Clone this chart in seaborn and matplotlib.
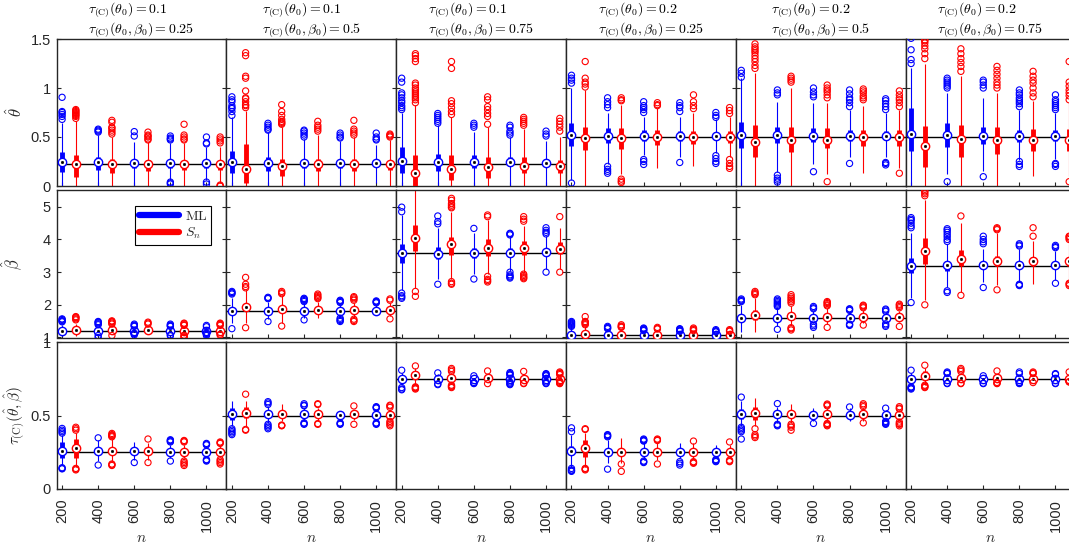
import numpy as np
import pandas as pd
import matplotlib
matplotlib.use("Agg")
import matplotlib.pyplot as plt
import seaborn as sns
from matplotlib.lines import Line2D

# ---------------- data ----------------
n_values = [200, 400, 600, 800, 1000]
n_labels = ["200", "400", "600", "800", "1000"]
tau_theta0 = ["0.1", "0.1", "0.1", "0.2", "0.2", "0.2"]
tau_total0 = ["0.25", "0.5", "0.75", "0.25", "0.5", "0.75"]

true_theta = [0.2222, 0.2222, 0.2222, 0.5, 0.5, 0.5]
true_beta = [1.2, 1.8, 3.6, 1.0667, 1.6, 3.2]
true_tau = [0.25, 0.5, 0.75, 0.25, 0.5, 0.75]

theta_ticks = [0, 0.5, 1, 1.5]
theta_ticklabels = ["0", "0.5", "1", "1.5"]
beta_ticks = [1, 2, 3, 4, 5]
beta_ticklabels = ["1", "2", "3", "4", "5"]
tau_ticks = [0, 0.5, 1]
tau_ticklabels = ["0", "0.5", "1"]

# ---- theta-hat, ML ----
theta_ml_med = [[0.242, 0.24, 0.235, 0.23, 0.23], [0.245, 0.235, 0.235, 0.23, 0.23],
                [0.255, 0.25, 0.25, 0.24, 0.235], [0.52, 0.51, 0.51, 0.51, 0.51],
                [0.52, 0.52, 0.51, 0.51, 0.51], [0.53, 0.52, 0.51, 0.51, 0.51]]
theta_ml_q1 = [[0.146, 0.163, 0.18, 0.18, 0.18], [0.13, 0.15, 0.18, 0.18, 0.19],
               [0.136, 0.15, 0.18, 0.2, 0.2], [0.41, 0.435, 0.46, 0.46, 0.47],
               [0.385, 0.44, 0.45, 0.46, 0.47], [0.36, 0.40, 0.43, 0.45, 0.46]]
theta_ml_q3 = [[0.35, 0.30, 0.27, 0.26, 0.25], [0.36, 0.30, 0.27, 0.26, 0.25],
               [0.40, 0.33, 0.32, 0.30, 0.28], [0.64, 0.59, 0.57, 0.56, 0.55],
               [0.656, 0.6, 0.59, 0.57, 0.56], [0.80, 0.64, 0.6, 0.57, 0.57]]
theta_ml_lo = [[0, 0, 0, 0.06, 0.06], [0, 0, 0, 0, 0.03], [0, 0, 0, 0, 0],
               [0.06, 0.22, 0.32, 0.3, 0.34], [0.0, 0.14, 0.22, 0.3, 0.3], [0, 0.12, 0.15, 0.27, 0.28]]
theta_ml_hi = [[0.64, 0.52, 0.45, 0.44, 0.40], [0.7, 0.55, 0.48, 0.46, 0.42],
               [0.75, 0.62, 0.55, 0.5, 0.46], [1.0, 0.75, 0.7, 0.7, 0.68],
               [1.1, 0.86, 0.85, 0.78, 0.75], [1.2, 0.95, 0.9, 0.78, 0.75]]
theta_ml_out = [
    [[0.68, 0.71, 0.73, 0.75, 0.76, 0.905], [0.55, 0.56, 0.57, 0.58], [0.51, 0.555],
     [0.47, 0.48, 0.49, 0.51, 0.02, 0.03, 0.04], [0.43, 0.44, 0.50, 0.02, 0.04]],
    [[0.72, 0.76, 0.79, 0.8, 0.82, 0.86, 0.88, 0.91], [0.57, 0.58, 0.6, 0.62, 0.64],
     [0.5, 0.52, 0.54, 0.56, 0.57], [0.49, 0.5, 0.52, 0.54], [0.47, 0.48, 0.5, 0.54]],
    [[0.78, 0.8, 0.82, 0.85, 0.87, 0.9, 0.93, 0.95, 1.06, 1.1], [0.64, 0.66, 0.68, 0.7, 0.72, 0.74],
     [0.6, 0.62, 0.64], [0.52, 0.54, 0.56, 0.6, 0.62], [0.51, 0.53, 0.56]],
    [[1.05, 1.08, 1.1, 1.13, 0.03], [0.8, 0.83, 0.86, 0.9, 0.13, 0.15, 0.17, 0.2],
     [0.75, 0.78, 0.8, 0.82, 0.86, 0.22, 0.25, 0.27], [0.76, 0.8, 0.82, 0.85, 0.24],
     [0.7, 0.72, 0.75, 0.23, 0.25, 0.28, 0.31]],
    [[1.11, 1.15, 1.18], [0.93, 0.95, 0.98, 0.04, 0.06, 0.08, 0.11], [0.91, 0.93, 0.96, 1.0, 0.146],
     [0.81, 0.85, 0.88, 0.9, 0.94, 0.98, 0.23], [0.78, 0.81, 0.84, 0.87, 0.89, 0.215, 0.23, 0.24]],
    [[1.25, 1.29, 1.39, 1.507], [1.0, 1.02, 1.04, 1.06, 1.08, 1.1, 0.044], [1.0, 1.03, 1.06, 1.08, 0.095],
     [0.81, 0.84, 0.86, 0.88, 0.9, 0.93, 0.95, 0.98, 0.2, 0.22, 0.25],
     [0.78, 0.8, 0.82, 0.84, 0.86, 0.88, 0.93, 0.2, 0.22, 0.23]],
]

# ---- theta-hat, Sn ----
theta_sn_med = [[0.221, 0.22, 0.22, 0.22, 0.22], [0.17, 0.20, 0.22, 0.22, 0.22],
                [0.13, 0.17, 0.19, 0.2, 0.2], [0.487, 0.487, 0.50, 0.50, 0.50],
                [0.446, 0.47, 0.47, 0.50, 0.50], [0.41, 0.476, 0.47, 0.47, 0.47]]
theta_sn_q1 = [[0.095, 0.136, 0.15, 0.16, 0.16], [0.03, 0.1, 0.15, 0.15, 0.16],
               [0.0, 0.06, 0.08, 0.13, 0.13], [0.37, 0.38, 0.42, 0.43, 0.44],
               [0.3, 0.35, 0.39, 0.41, 0.41], [0.197, 0.3, 0.33, 0.36, 0.36]]
theta_sn_q3 = [[0.316, 0.28, 0.27, 0.26, 0.26], [0.43, 0.28, 0.28, 0.28, 0.26],
               [0.32, 0.32, 0.30, 0.30, 0.27], [0.60, 0.59, 0.57, 0.56, 0.56],
               [0.62, 0.6, 0.59, 0.57, 0.57], [0.61, 0.62, 0.6, 0.58, 0.58]]
theta_sn_lo = [[0, 0, 0, 0, 0.03], [0, 0, 0, 0, 0], [0, 0, 0, 0, 0],
               [0, 0.12, 0.18, 0.2, 0.3], [0, 0, 0.12, 0.13, 0.18], [0, 0, 0, 0.1, 0.1]]
theta_sn_hi = [[0.66, 0.5, 0.45, 0.44, 0.4], [0.77, 0.6, 0.52, 0.5, 0.47],
               [0.83, 0.7, 0.6, 0.58, 0.5], [0.98, 0.83, 0.8, 0.75, 0.7],
               [1.15, 1.0, 0.85, 0.82, 0.78], [1.25, 1.12, 0.95, 0.87, 0.85]]
theta_sn_out = [
    [[0.69, 0.71, 0.72, 0.73, 0.74, 0.75, 0.76, 0.77, 0.78], [0.53, 0.55, 0.57, 0.59, 0.6, 0.65, 0.67],
     [0.47, 0.48, 0.5, 0.51, 0.52, 0.55], [0.47, 0.48, 0.5, 0.52, 0.63], [0.44, 0.46, 0.48, 0.5, 0.0, 0.0, 0.01]],
    [[0.8, 0.82, 0.83, 0.86, 0.89, 0.9, 0.97, 1.1, 1.12, 1.33, 1.36],
     [0.63, 0.64, 0.65, 0.66, 0.68, 0.72, 0.76, 0.83], [0.56, 0.58, 0.6, 0.62, 0.66],
     [0.52, 0.54, 0.56, 0.58, 0.67], [0.5, 0.51, 0.52, 0.53]],
    [[0.85, 0.88, 0.9, 0.92, 0.94, 0.96, 0.98, 1.0, 1.03, 1.05, 1.27, 1.3, 1.33, 1.35],
     [0.73, 0.76, 0.8, 0.84, 0.87, 1.2, 1.27], [0.63, 0.71, 0.74, 0.78, 0.81, 0.88, 0.91],
     [0.62, 0.64, 0.66, 0.68, 0.7], [0.56, 0.6, 0.63, 0.66, 0.69]],
    [[1.01, 1.04, 1.06, 1.1, 1.27], [0.87, 0.88, 0.9, 0.035, 0.05, 0.07], [0.82, 0.83, 0.85],
     [0.79, 0.82, 0.86, 0.93], [0.74, 0.77, 0.8, 0.18, 0.2, 0.23, 0.27]],
    [[1.2, 1.23, 1.27, 1.3, 1.33, 1.36, 1.38, 1.4, 1.42, 1.45], [1.06, 1.08, 1.1, 1.12],
     [0.9, 0.93, 0.96, 0.98, 1.0, 1.03, 0.044], [0.88, 0.9, 0.92, 0.95, 0.97, 0.99],
     [0.81, 0.85, 0.88, 0.9, 0.93, 0.97, 0.13]],
    [[1.3, 1.35, 1.4, 1.43, 1.46, 1.48, 1.49], [1.17, 1.22, 1.26, 1.3, 1.35, 1.4],
     [1.0, 1.03, 1.06, 1.1, 1.14, 1.18, 1.22], [0.91, 0.95, 1.0, 1.05, 1.08, 1.12, 1.17],
     [0.88, 0.92, 0.95, 0.98, 1.02, 1.06, 1.27, 0.044]],
]

# ---- beta-hat, ML ----
beta_ml_med = [[1.21, 1.21, 1.21, 1.21, 1.21], [1.81, 1.81, 1.81, 1.81, 1.81],
               [3.59, 3.57, 3.59, 3.59, 3.61], [1.08, 1.08, 1.08, 1.08, 1.08],
               [1.61, 1.61, 1.61, 1.61, 1.61], [3.2, 3.21, 3.21, 3.21, 3.21]]
beta_ml_q1 = [[1.16, 1.17, 1.18, 1.18, 1.18], [1.74, 1.76, 1.77, 1.77, 1.78],
              [3.28, 3.4, 3.42, 3.45, 3.48], [1.02, 1.03, 1.04, 1.04, 1.05],
              [1.52, 1.55, 1.57, 1.57, 1.58], [2.96, 3.05, 3.1, 3.12, 3.13]]
beta_ml_q3 = [[1.27, 1.25, 1.25, 1.24, 1.24], [1.88, 1.86, 1.85, 1.85, 1.84],
              [3.85, 3.78, 3.75, 3.73, 3.72], [1.14, 1.12, 1.11, 1.1, 1.1],
              [1.72, 1.68, 1.66, 1.65, 1.64], [3.44, 3.35, 3.32, 3.3, 3.29]]
beta_ml_lo = [[1.05, 1.1, 1.15, 1.13, 1.14], [1.45, 1.56, 1.6, 1.65, 1.7],
              [2.45, 2.8, 2.95, 3.05, 3.1], [1.0, 1.0, 1.0, 1.0, 1.0],
              [1.18, 1.35, 1.45, 1.48, 1.5], [2.2, 2.55, 2.7, 2.7, 2.75]]
beta_ml_hi = [[1.38, 1.33, 1.3, 1.3, 1.29], [2.2, 2.1, 2.05, 2.0, 2.0],
              [4.75, 4.35, 4.2, 4.1, 4.1], [1.3, 1.24, 1.19, 1.17, 1.15],
              [2.0, 1.9, 1.8, 1.8, 1.77], [4.2, 3.85, 3.7, 3.7, 3.65]]
beta_ml_out = [
    [[1.48, 1.5, 1.52, 1.55, 1.57], [1.39, 1.42, 1.45, 1.47, 1.49, 1.0, 1.06],
     [1.34, 1.36, 1.38, 1.41, 1.08, 1.11, 1.13], [1.34, 1.36, 1.38, 1.41, 1.05, 1.08],
     [1.33, 1.37, 1.06, 1.09, 1.12, 1.15]],
    [[2.33, 2.36, 2.38, 2.41, 1.27], [2.19, 2.21, 2.23, 1.49], [2.1, 2.13, 2.16, 2.18, 2.2, 1.54],
     [2.07, 2.1, 2.12, 2.14, 1.49, 1.52, 1.55, 1.59], [2.06, 2.08, 2.1, 2.12]],
    [[4.85, 4.99, 2.2, 2.24, 2.28, 2.36], [4.48, 4.55, 4.72, 2.63], [4.34, 2.79],
     [4.14, 4.17, 4.19, 2.82, 2.85, 2.88, 2.92, 3.0], [4.17, 4.22, 4.28, 4.36, 3.0]],
    [[1.34, 1.37, 1.4, 1.43, 1.46, 1.49], [1.27, 1.29, 1.31, 1.34], [1.21, 1.23, 1.25, 1.27, 1.29],
     [1.19, 1.21, 1.23, 1.25, 1.27], [1.17, 1.19, 1.21, 1.24]],
    [[2.1, 2.13, 2.15, 2.18], [1.95, 1.98, 2.02, 2.06, 2.1, 2.14, 2.18, 1.25],
     [1.88, 1.91, 1.95, 1.31, 1.36, 1.41], [1.83, 1.86, 1.88, 1.37, 1.39, 1.41],
     [1.8, 1.84, 1.87, 1.34, 1.38, 1.42]],
    [[4.36, 4.42, 4.5, 4.58, 4.62, 4.67, 2.07], [3.94, 4.0, 4.08, 4.15, 4.22, 4.28, 4.33, 2.38, 2.43],
     [3.87, 3.93, 4.0, 4.1, 2.53], [3.8, 3.83, 3.87, 2.59, 2.61, 2.63], [3.75, 3.78, 3.82, 2.66]],
]

# ---- beta-hat, Sn ----
beta_sn_med = [[1.24, 1.23, 1.22, 1.21, 1.21], [1.92, 1.87, 1.84, 1.84, 1.84],
               [4.05, 3.85, 3.75, 3.75, 3.72], [1.11, 1.08, 1.08, 1.08, 1.08],
               [1.69, 1.65, 1.64, 1.64, 1.62], [3.64, 3.4, 3.33, 3.33, 3.33]]
beta_sn_q1 = [[1.17, 1.18, 1.18, 1.18, 1.18], [1.82, 1.79, 1.78, 1.78, 1.79],
              [3.64, 3.54, 3.5, 3.52, 3.55], [1.03, 1.03, 1.04, 1.04, 1.05],
              [1.55, 1.56, 1.57, 1.57, 1.57], [3.25, 3.19, 3.18, 3.2, 3.2]]
beta_sn_q3 = [[1.3, 1.28, 1.26, 1.25, 1.25], [2.02, 1.95, 1.9, 1.9, 1.89],
              [4.44, 4.07, 4.0, 3.95, 3.92], [1.2, 1.14, 1.12, 1.11, 1.1],
              [1.85, 1.75, 1.72, 1.7, 1.69], [4.05, 3.68, 3.5, 3.47, 3.45]]
beta_sn_lo = [[1.05, 1.1, 1.12, 1.12, 1.13], [1.45, 1.45, 1.6, 1.62, 1.65],
              [2.5, 2.8, 2.95, 3.0, 3.1], [1.0, 1.0, 1.0, 1.0, 1.0],
              [1.18, 1.38, 1.4, 1.45, 1.47], [2.15, 2.4, 2.6, 2.63, 2.7]]
beta_sn_hi = [[1.42, 1.36, 1.33, 1.3, 1.3], [2.45, 2.28, 2.1, 2.05, 2.05],
              [5.6, 4.85, 4.6, 4.4, 4.35], [1.35, 1.27, 1.22, 1.2, 1.18],
              [2.2, 1.95, 1.9, 1.85, 1.82], [5.2, 4.5, 4.2, 3.95, 3.85]]
beta_sn_out = [
    [[1.54, 1.57, 1.6, 1.62, 1.64], [1.41, 1.44, 1.47, 1.49, 1.51, 1.06], [1.41, 1.44, 1.47],
     [1.37, 1.39, 1.42, 1.44, 1.0, 1.02, 1.05, 1.07], [1.37, 1.4, 1.42, 1.44, 1.07, 1.1]],
    [[2.52, 2.56, 2.63, 2.84, 1.3], [2.34, 2.37, 2.41, 1.35], [2.19, 2.22, 2.25, 2.29, 2.33],
     [2.14, 2.18, 2.22, 2.25, 1.49, 1.52, 1.56], [2.14, 2.18, 1.57]],
    [[2.26, 2.41], [4.97, 5.0, 5.05, 5.1, 5.2, 5.26, 2.63, 2.66, 2.71], [4.7, 4.75, 2.7, 2.74, 2.78, 2.87],
     [4.56, 4.62, 4.7, 2.8, 2.83, 2.86, 2.9, 2.94], [4.7, 3.0]],
    [[1.39, 1.42, 1.45, 1.47, 1.49, 1.64], [1.31, 1.33, 1.35, 1.39], [1.26, 1.28, 1.31],
     [1.21, 1.24, 1.26, 1.29], [1.19, 1.21, 1.24]],
    [[2.31, 2.34, 2.37, 2.41], [2.05, 2.1, 2.15, 2.2, 2.25, 2.31, 1.23, 1.27, 1.3],
     [1.97, 2.0, 2.04, 2.07, 2.1, 1.31], [1.91, 1.94, 1.97, 1.99, 1.38], [1.91, 1.95, 1.99, 2.02, 1.34]],
    [[5.34, 5.4, 5.45, 5.49, 2.0], [4.72, 2.29], [4.3, 4.33, 4.36, 2.46], [4.1, 4.36],
     [4.0, 4.04, 4.08, 4.1, 2.59, 2.63, 2.66]],
]

# ---- tau(theta-hat, beta-hat), ML ----
tau_ml_med = [[0.26, 0.258, 0.258, 0.253, 0.253], [0.509, 0.507, 0.507, 0.502, 0.502],
              [0.751, 0.751, 0.747, 0.747, 0.747], [0.26, 0.253, 0.253, 0.253, 0.253],
              [0.507, 0.507, 0.502, 0.502, 0.502], [0.751, 0.751, 0.751, 0.751, 0.751]]
tau_ml_q1 = [[0.21, 0.24, 0.24, 0.24, 0.24], [0.47, 0.49, 0.49, 0.49, 0.49],
             [0.73, 0.735, 0.735, 0.738, 0.738], [0.23, 0.235, 0.24, 0.24, 0.24],
             [0.475, 0.49, 0.49, 0.49, 0.49], [0.73, 0.735, 0.74, 0.74, 0.74]]
tau_ml_q3 = [[0.32, 0.28, 0.275, 0.27, 0.267], [0.55, 0.525, 0.52, 0.515, 0.515],
             [0.77, 0.765, 0.76, 0.758, 0.757], [0.29, 0.275, 0.27, 0.267, 0.265],
             [0.545, 0.525, 0.515, 0.515, 0.515], [0.77, 0.765, 0.762, 0.76, 0.76]]
tau_ml_lo = [[0.16, 0.19, 0.2, 0.21, 0.215], [0.43, 0.45, 0.46, 0.46, 0.47],
             [0.71, 0.72, 0.725, 0.73, 0.73], [0.15, 0.18, 0.2, 0.21, 0.215],
             [0.43, 0.45, 0.46, 0.46, 0.47], [0.71, 0.725, 0.725, 0.73, 0.73]]
tau_ml_hi = [[0.37, 0.33, 0.32, 0.3, 0.29], [0.6, 0.56, 0.55, 0.53, 0.54],
             [0.79, 0.78, 0.77, 0.77, 0.77], [0.37, 0.33, 0.32, 0.31, 0.3],
             [0.6, 0.56, 0.55, 0.55, 0.54], [0.79, 0.78, 0.77, 0.775, 0.77]]
tau_ml_out = [
    [[0.38, 0.39, 0.4, 0.412, 0.14, 0.145, 0.137], [0.348, 0.163], [0.18],
     [0.32, 0.325, 0.33, 0.335, 0.19], [0.3, 0.305, 0.31, 0.19, 0.195, 0.2]],
    [[0.37, 0.38, 0.39, 0.4, 0.41], [0.575, 0.585, 0.594, 0.41, 0.42, 0.43, 0.44],
     [0.566, 0.57, 0.58, 0.44, 0.445, 0.45], [0.44, 0.445, 0.45], [0.55, 0.555, 0.56, 0.44, 0.445, 0.45]],
    [[0.808, 0.675, 0.68, 0.69], [0.79, 0.71, 0.715], [0.77, 0.717, 0.72, 0.725],
     [0.774, 0.78, 0.785, 0.792, 0.71, 0.715, 0.72, 0.728], [0.77, 0.775, 0.78, 0.785, 0.717, 0.72, 0.728]],
    [[0.39, 0.416, 0.12, 0.125, 0.13, 0.14], [0.355, 0.36, 0.365, 0.37, 0.135],
     [0.326, 0.33, 0.335, 0.34, 0.18, 0.185, 0.19], [0.163, 0.175, 0.186], [0.186, 0.19, 0.195, 0.2]],
    [[0.625, 0.34, 0.39, 0.4, 0.41, 0.42], [0.581, 0.43, 0.435, 0.44], [0.446], [0.558],
     [0.55, 0.44, 0.445, 0.45, 0.455, 0.46]],
    [[0.808, 0.68, 0.685, 0.69, 0.695], [0.785, 0.79, 0.796, 0.717, 0.72], [0.77, 0.717, 0.72],
     [0.785, 0.796, 0.717, 0.72, 0.725], [0.78, 0.785, 0.717, 0.72]],
]

# ---- tau(theta-hat, beta-hat), Sn ----
tau_sn_med = [[0.276, 0.258, 0.258, 0.253, 0.253], [0.52, 0.511, 0.509, 0.507, 0.505],
              [0.774, 0.758, 0.756, 0.751, 0.751], [0.276, 0.253, 0.253, 0.253, 0.253],
              [0.52, 0.509, 0.509, 0.507, 0.502], [0.769, 0.758, 0.756, 0.751, 0.751]]
tau_sn_q1 = [[0.21, 0.24, 0.24, 0.24, 0.24], [0.48, 0.49, 0.49, 0.49, 0.49],
             [0.745, 0.74, 0.74, 0.74, 0.74], [0.22, 0.235, 0.24, 0.24, 0.24],
             [0.47, 0.49, 0.49, 0.49, 0.49], [0.74, 0.74, 0.74, 0.74, 0.74]]
tau_sn_q3 = [[0.34, 0.28, 0.275, 0.27, 0.267], [0.56, 0.53, 0.525, 0.52, 0.52],
             [0.8, 0.775, 0.77, 0.765, 0.762], [0.33, 0.275, 0.27, 0.267, 0.265],
             [0.56, 0.53, 0.525, 0.52, 0.515], [0.8, 0.775, 0.77, 0.765, 0.762]]
tau_sn_lo = [[0.15, 0.19, 0.2, 0.21, 0.215], [0.43, 0.46, 0.46, 0.47, 0.47],
             [0.71, 0.72, 0.725, 0.73, 0.735], [0.15, 0.18, 0.2, 0.21, 0.215],
             [0.43, 0.45, 0.46, 0.46, 0.47], [0.71, 0.725, 0.725, 0.73, 0.735]]
tau_sn_hi = [[0.38, 0.34, 0.31, 0.3, 0.29], [0.6, 0.58, 0.55, 0.54, 0.54],
             [0.82, 0.79, 0.785, 0.78, 0.77], [0.38, 0.35, 0.31, 0.31, 0.3],
             [0.62, 0.58, 0.55, 0.55, 0.54], [0.82, 0.79, 0.785, 0.775, 0.77]]
tau_sn_out = [
    [[0.4, 0.41, 0.42, 0.13, 0.135, 0.14], [0.355, 0.36, 0.365, 0.37, 0.378, 0.16, 0.165, 0.17],
     [0.34, 0.18], [0.32, 0.325, 0.33, 0.16, 0.17, 0.18, 0.19], [0.31, 0.315, 0.32, 0.17, 0.18, 0.19, 0.2]],
    [[0.645, 0.4, 0.405], [0.43, 0.432, 0.435], [0.575, 0.58, 0.44, 0.445], [0.565, 0.44],
     [0.555, 0.565, 0.57, 0.43, 0.44, 0.45, 0.46]],
    [[0.837, 0.68, 0.685, 0.69, 0.695], [0.8, 0.81, 0.82, 0.69, 0.695, 0.7, 0.706], [0.803, 0.717],
     [0.8, 0.717, 0.72], [0.778, 0.785, 0.79, 0.796, 0.717, 0.72, 0.725, 0.732]],
    [[0.405, 0.41, 0.13, 0.135, 0.14], [0.12, 0.17], [0.33, 0.335, 0.34, 0.17],
     [0.326, 0.175, 0.18, 0.186], [0.32, 0.186, 0.19, 0.196]],
    [[0.35, 0.36, 0.37, 0.41], [0.4, 0.42, 0.43, 0.44], [0.566, 0.572, 0.578, 0.43, 0.435, 0.44, 0.446],
     [0.56, 0.57, 0.58, 0.45], [0.545, 0.55, 0.56, 0.43, 0.44, 0.445, 0.455]],
    [[0.842, 0.69, 0.695, 0.7, 0.706], [0.8, 0.81, 0.82, 0.717, 0.72], [0.803, 0.717, 0.72, 0.725],
     [0.785, 0.79, 0.796, 0.724], [0.796, 0.728, 0.73]],
]

# ---------------- style ----------------
sns.set_theme(style="white")
plt.rcParams["font.family"] = ["Liberation Sans", "DejaVu Sans"]
plt.rcParams["mathtext.fontset"] = "cm"
FRAME = "#262626"
ML_COLOR = "#0000ff"
SN_COLOR = "#ff0000"
SN_OFFSET = 76

rows = [
    dict(ml=(theta_ml_med, theta_ml_q1, theta_ml_q3, theta_ml_lo, theta_ml_hi, theta_ml_out),
         sn=(theta_sn_med, theta_sn_q1, theta_sn_q3, theta_sn_lo, theta_sn_hi, theta_sn_out),
         truth=true_theta, ylim=(0, 1.5), ticks=theta_ticks, ticklabels=theta_ticklabels,
         ylabel=r"$\hat{\theta}$", labx=-0.185, labsize=12),
    dict(ml=(beta_ml_med, beta_ml_q1, beta_ml_q3, beta_ml_lo, beta_ml_hi, beta_ml_out),
         sn=(beta_sn_med, beta_sn_q1, beta_sn_q3, beta_sn_lo, beta_sn_hi, beta_sn_out),
         truth=true_beta, ylim=(1, 5.5), ticks=beta_ticks, ticklabels=beta_ticklabels,
         ylabel=r"$\hat{\beta}$", labx=-0.185, labsize=12),
    dict(ml=(tau_ml_med, tau_ml_q1, tau_ml_q3, tau_ml_lo, tau_ml_hi, tau_ml_out),
         sn=(tau_sn_med, tau_sn_q1, tau_sn_q3, tau_sn_lo, tau_sn_hi, tau_sn_out),
         truth=true_tau, ylim=(0, 1), ticks=tau_ticks, ticklabels=tau_ticklabels,
         ylabel=r"$\tau_{(\mathrm{C})}(\hat{\theta},\hat{\beta})$", labx=-0.17, labsize=11),
]

W, H = 1069, 545
fig = plt.figure(figsize=(W / 100, H / 100), dpi=100)
left0, pw, ph = 56.5, 169.8, 147.0
row_tops = [39.0, 190.5, 342.0]


def draw_method(ax, c, stats, color, offset):
    med, q1, q3, lo, hi, outs = [s[c] for s in stats]
    x = np.array(n_values, dtype=float) + offset
    ax.vlines(x, lo, hi, colors=color, lw=0.8, zorder=2)
    ax.vlines(x, q1, q3, colors=color, lw=3.5, zorder=3, capstyle="butt")
    dfm = pd.DataFrame({"x": x, "y": med})
    sns.scatterplot(data=dfm, x="x", y="y", ax=ax, s=36, marker="o", color=color,
                    facecolor="white", edgecolor=color, linewidth=1.0, zorder=4, legend=False)
    sns.scatterplot(data=dfm, x="x", y="y", ax=ax, s=4, marker="o", color="black",
                    edgecolor="black", linewidth=0.2, zorder=5, legend=False)
    ox = [xi for xi, o in zip(x, outs) for _ in o]
    oy = [v for o in outs for v in o]
    dfo = pd.DataFrame({"x": ox, "y": oy})
    sns.scatterplot(data=dfo, x="x", y="y", ax=ax, s=20, marker="o", color=color,
                    facecolor="none", edgecolor=color, linewidth=0.8, zorder=6, legend=False)


top_axes = []
for r, row in enumerate(rows):
    for c in range(6):
        rect = [(left0 + c * pw) / W, 1 - (row_tops[r] + ph) / H, pw / W, ph / H]
        ax = fig.add_axes(rect)
        ax.axhline(row["truth"][c], color="black", lw=1.0, zorder=1)
        draw_method(ax, c, row["ml"], ML_COLOR, 0)
        draw_method(ax, c, row["sn"], SN_COLOR, SN_OFFSET)
        ax.set_xlim(169, 1110)
        ax.set_ylim(*row["ylim"])
        ax.set_yticks(row["ticks"])
        ax.set_xticks(n_values)
        ax.set_xlabel("")
        ax.set_ylabel("")
        for sp in ax.spines.values():
            sp.set_color(FRAME)
            sp.set_linewidth(1.0)
        ax.tick_params(axis="both", direction="in", length=3, width=0.8, color=FRAME,
                       labelcolor=FRAME, labelsize=10.5, left=True, right=True,
                       bottom=True, top=False)
        if c == 0:
            ax.set_yticklabels(row["ticklabels"])
            ax.tick_params(axis="y", pad=4)
            ax.set_ylabel(row["ylabel"], fontsize=row["labsize"], color=FRAME)
            ax.yaxis.set_label_coords(row["labx"], 0.5)
        else:
            ax.set_yticklabels([])
        if r == 2:
            ax.set_xticklabels(n_labels, rotation=90)
            ax.tick_params(axis="x", pad=7)
            ax.set_xlabel(r"$n$", fontsize=11, color=FRAME)
            ax.xaxis.set_label_coords(0.5, -0.285)
        else:
            ax.set_xticklabels([])
        if r == 0:
            top_axes.append(ax)
        if r == 1 and c == 0:
            handles = [Line2D([], [], color=ML_COLOR, lw=4.5),
                       Line2D([], [], color=SN_COLOR, lw=4.5)]
            leg = ax.legend(handles, [r"$\mathrm{ML}$", r"$S_n$"], loc="upper right",
                            bbox_to_anchor=(0.91, 0.897), frameon=True, fancybox=False,
                            edgecolor="black", framealpha=1, fontsize=10,
                            handlelength=2.9, borderpad=0.25, labelspacing=0.2,
                            handletextpad=0.4, borderaxespad=0)
            leg.get_frame().set_linewidth(0.8)

# two-line titles: block centred over each panel, lines left-aligned
renderer = fig.canvas.get_renderer()
for c, ax in enumerate(top_axes):
    line2 = ax.text(0.5, 1 + (39 - 29.3) / ph, r"$\tau_{(\mathrm{C})}(\theta_0,\beta_0) = " + tau_total0[c] + "$",
                    transform=ax.transAxes, ha="center", va="center", fontsize=10, color="black")
    bb = line2.get_window_extent(renderer=renderer)
    x_left = ax.transAxes.inverted().transform((bb.x0, bb.y0))[0]
    ax.text(x_left, 1 + (39 - 10.0) / ph, r"$\tau_{(\mathrm{C})}(\theta_0) = " + tau_theta0[c] + "$",
            transform=ax.transAxes, ha="left", va="center", fontsize=10, color="black")

fig.savefig("out.png", dpi=100)
